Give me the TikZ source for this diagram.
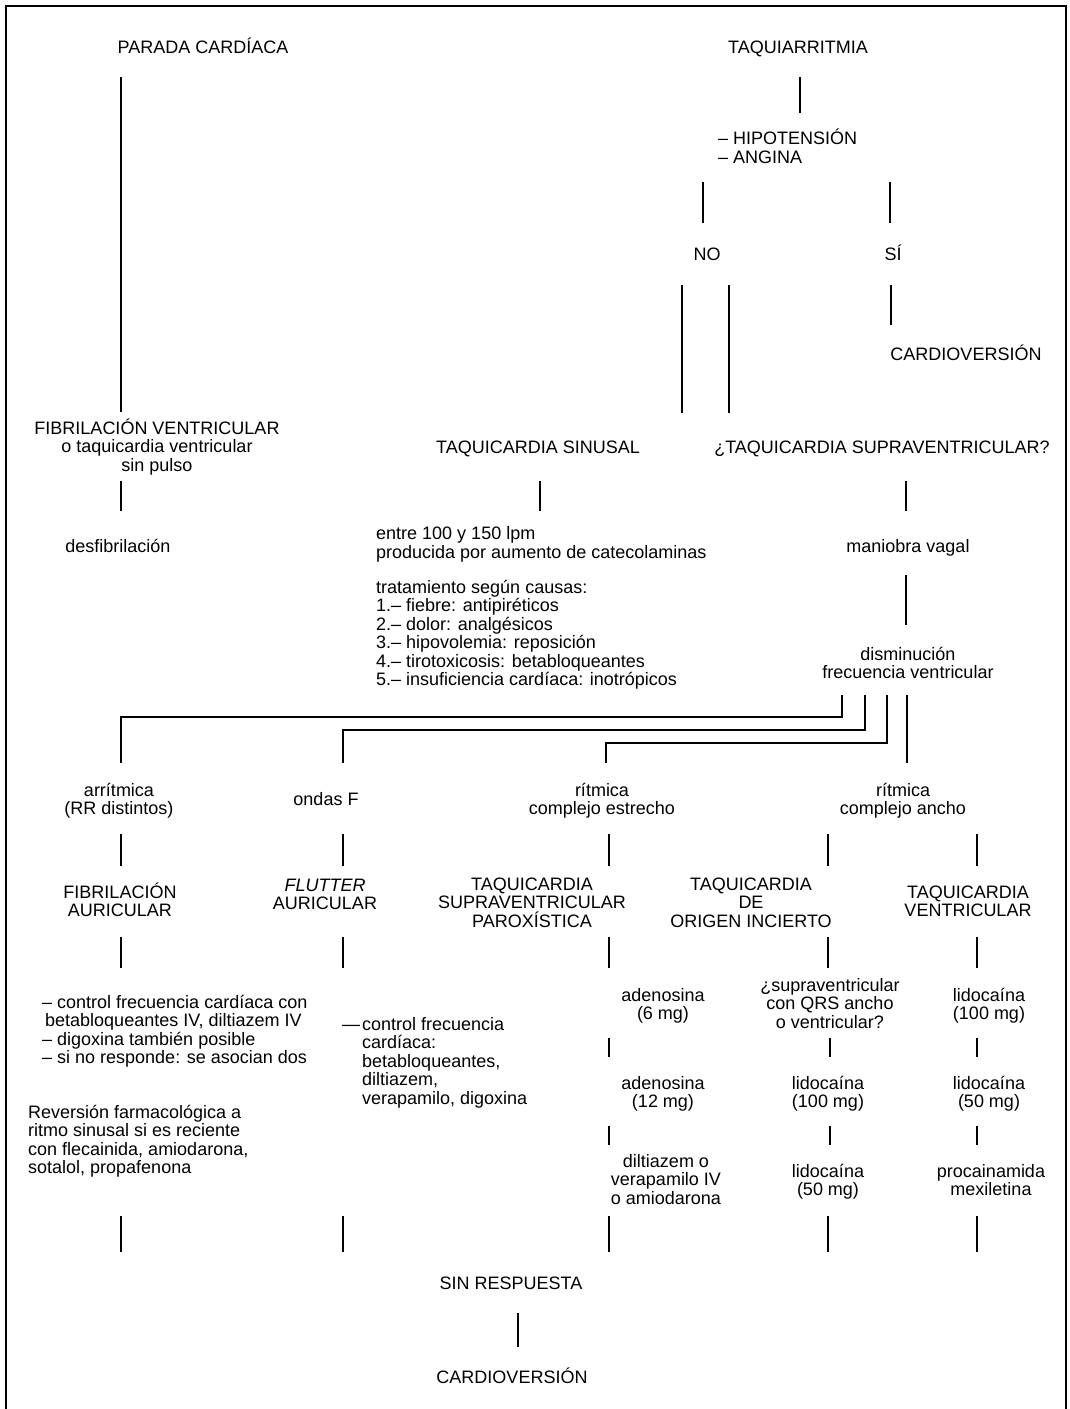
\documentclass[tikz,border=0pt]{standalone}
\usepackage{fontspec}
\setmainfont{Liberation Sans}
\begin{document}
\begin{tikzpicture}[x=1pt,y=-1pt,
  txt/.style={inner sep=0pt, align=center, anchor=base, font=\fontsize{18}{18.5}\selectfont},
  ltxt/.style={inner sep=0pt, align=left, anchor=base west, font=\fontsize{18}{18.5}\selectfont},
  conn/.style={line width=1.9pt, line cap=butt},
  frame/.style={line width=2.6pt}]
\useasboundingbox (0,0) rectangle (1069,1409);
\draw[frame] (6,1409) -- (6,6) -- (1066,6) -- (1066,1409);

% top
\node[txt] (pc) at (203,53) {PARADA CARDÍACA};
\node[txt] (taq) at (798,53) {TAQUIARRITMIA};
\node[ltxt] (hip) at (718,163) {– HIPOTENSIÓN\\– ANGINA};
\node[txt] (no) at (707,260) {NO};
\node[txt] (si) at (893,260) {SÍ};
\node[txt] (cv1) at (966,360) {CARDIOVERSIÓN};

% row 2
\node[txt] (fv) at (157,471) {FIBRILACIÓN VENTRICULAR\\o taquicardia ventricular\\sin pulso};
\node[txt] (ts) at (538,453) {TAQUICARDIA SINUSAL};
\node[txt] (tsv) at (882,453) {¿TAQUICARDIA SUPRAVENTRICULAR?};
\node[txt] (desf) at (118,552) {desfibrilación};
\node[ltxt] (ent) at (376,558) {entre 100 y 150 lpm\\producida por aumento de catecolaminas};
\node[ltxt] (trat) at (376,685.5) {tratamiento según causas:\\1.– fiebre: antipiréticos\\2.– dolor: analgésicos\\3.– hipovolemia: reposición\\4.– tirotoxicosis: betabloqueantes\\5.– insuficiencia cardíaca: inotrópicos};
\node[txt] (mv) at (908,552) {maniobra vagal};
\node[txt] (dis) at (908,678.5) {disminución\\frecuencia ventricular};

% row 3
\node[txt] (arr) at (119,814.5) {arrítmica\\(RR distintos)};
\node[txt] (ondas) at (326,805) {ondas F};
\node[txt] (rit1) at (602,814.5) {rítmica\\complejo estrecho};
\node[txt] (rit2) at (903,814.5) {rítmica\\complejo ancho};

% row 4
\node[txt] (fa) at (120,916.5) {FIBRILACIÓN\\AURICULAR};
\node[txt] (fl) at (325,909.5) {\textit{FLUTTER}\\AURICULAR};
\node[txt] (tsp) at (532,927) {TAQUICARDIA\\SUPRAVENTRICULAR\\PAROXÍSTICA};
\node[txt] (toi) at (751,927) {TAQUICARDIA\\DE\\ORIGEN INCIERTO};
\node[txt] (tv) at (968,916.5) {TAQUICARDIA\\VENTRICULAR};

% row 5
\node[ltxt] (ctrl1) at (42,1063.5) {– control frecuencia cardíaca con\\\hspace*{3pt}betabloqueantes IV, diltiazem IV\\– digoxina también posible\\– si no responde: se asocian dos};
\node[ltxt] (rev) at (28,1173.5) {Reversión farmacológica a\\ritmo sinusal si es reciente\\con flecainida, amiodarona,\\sotalol, propafenona};
\node[ltxt] (ctrl2) at (342,1104) {\makebox[20pt][l]{—}control frecuencia\\\hspace*{20pt}cardíaca:\\\hspace*{20pt}betabloqueantes,\\\hspace*{20pt}diltiazem,\\\hspace*{20pt}verapamilo, digoxina};
\node[txt] (ad1) at (663,1019.5) {adenosina\\(6 mg)};
\node[txt] (ad2) at (663,1107.5) {adenosina\\(12 mg)};
\node[txt] (dil) at (666,1204) {diltiazem o\\verapamilo IV\\o amiodarona};
\node[txt] (sup) at (830,1028) {¿supraventricular\\con QRS ancho\\o ventricular?};
\node[txt] (lid1) at (828,1107.5) {lidocaína\\(100 mg)};
\node[txt] (lid2) at (828,1195.5) {lidocaína\\(50 mg)};
\node[txt] (lid3) at (989,1019.5) {lidocaína\\(100 mg)};
\node[txt] (lid4) at (989,1107.5) {lidocaína\\(50 mg)};
\node[txt] (proc) at (991,1195.5) {procainamida\\mexiletina};

% bottom
\node[txt] (sr) at (511,1289) {SIN RESPUESTA};
\node[txt] (cv2) at (512,1383) {CARDIOVERSIÓN};

% connectors
\draw[conn] (121,77) -- (121,412);
\draw[conn] (800,77) -- (800,113);
\draw[conn] (703,182) -- (703,223);
\draw[conn] (890,182) -- (890,223);
\draw[conn] (682,285) -- (682,413);
\draw[conn] (729,285) -- (729,413);
\draw[conn] (891,285) -- (891,325);
\draw[conn] (121,481) -- (121,511);
\draw[conn] (540,481) -- (540,511);
\draw[conn] (906,481) -- (906,511);
\draw[conn] (906,575) -- (906,625);
\draw[conn] (842,695) -- (842,717) -- (121,717) -- (121,763);
\draw[conn] (865,695) -- (865,730) -- (343,730) -- (343,763);
\draw[conn] (887,695) -- (887,743) -- (606,743) -- (606,763);
\draw[conn] (907,695) -- (907,763);
\foreach \x in {121,343,609,828,977} {
  \draw[conn] (\x,834) -- (\x,866);
  \draw[conn] (\x,937) -- (\x,968);
  \draw[conn] (\x,1216) -- (\x,1252);
}
\foreach \x in {609,830,977} {
  \draw[conn] (\x,1038) -- (\x,1057);
  \draw[conn] (\x,1126) -- (\x,1145);
}
\draw[conn] (518,1313) -- (518,1347);
\end{tikzpicture}
\end{document}
